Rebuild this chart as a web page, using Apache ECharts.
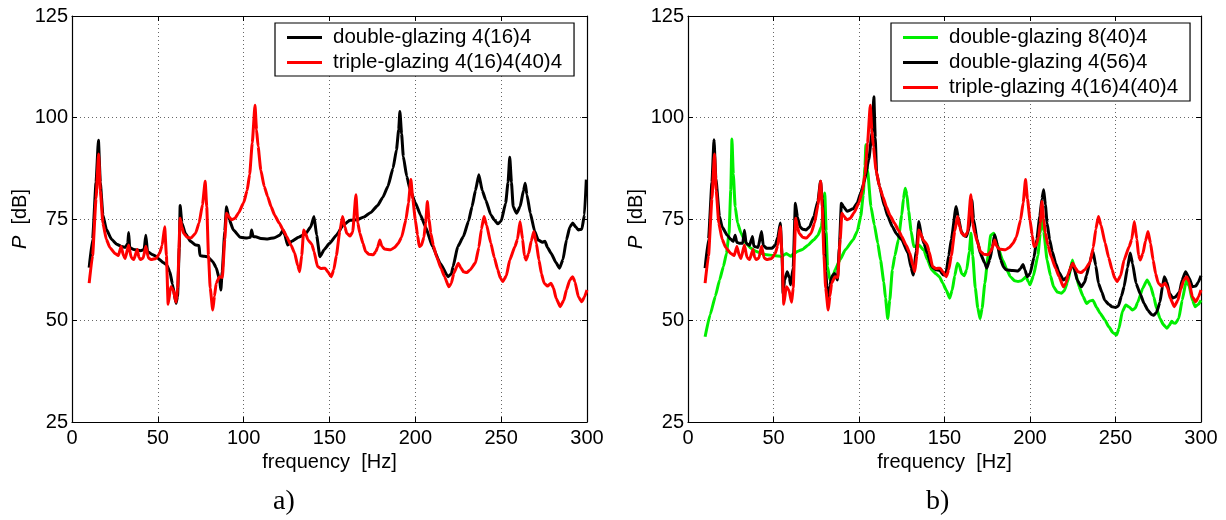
<!DOCTYPE html>
<html>
<head>
<meta charset="utf-8">
<script src="https://cdn.jsdelivr.net/npm/echarts@6/dist/echarts.min.js"></script>
<style>html,body{margin:0;padding:0;background:#fff}#c{width:1226px;height:520px}</style>
</head>
<body>
<div id="c"></div>
<script>
// ---- data: [frequency Hz, P dB] ----
const xTicks = [0, 50, 100, 150, 200, 250, 300];
const yTicks = [25, 50, 75, 100, 125];
const names = ['double-glazing 4(16)4', 'triple-glazing 4(16)4(40)4', 'double-glazing 8(40)4', 'double-glazing 4(56)4'];
const panelLabels = ['a)', 'b)'];

const double_4_16_4 = [[10,63],[12,70],[14,84],[15.4,94.4],[16.5,84],[18,76],[20,72.5],[23,70],[26,68.8],[29,68.2],[31,68],[32.5,69],[33,71.7],[33.6,68],[36,67.5],[40,67.2],[42,67.5],[43,71],[44,67],[47,66.2],[49,65.8],[51,65],[53,64.3],[55,63.8],[57,62],[58.5,59],[60.6,54.2],[61.5,56],[62.5,68],[63,78.3],[64,74],[66,71.5],[69,69.5],[72,68.6],[74,68.5],[74.5,66],[77,65.8],[79,65.7],[82,64.5],[84,63],[86,60],[86.7,57.5],[87.5,62],[89,72],[90,78],[91.5,75],[94,72.3],[98,70.5],[102,70.3],[104,70.5],[104.6,72.3],[105.5,70.7],[107,70.6],[110,70.2],[114,70.1],[118,70.4],[121,71],[123,72.3],[124,71],[125.6,68.6],[128,69.5],[132,70.5],[136,71.3],[139,73],[141,75.6],[142.5,71],[144.4,65.7],[147,67.5],[150,69],[154,71],[158,73.5],[162,74.7],[166,74.8],[170,75.5],[174,76.6],[178,78.3],[181,80.3],[184,83],[187,87.5],[189,92],[190.3,97],[191,101.5],[192,96],[193,90.4],[195,85.5],[197,82.2],[200,79],[203,76],[206,73],[210,68.2],[214.5,64.1],[219,60.8],[221,61.5],[222,63.3],[224.7,68.2],[228,70.7],[231,74.5],[233,78],[235,82],[237,85.9],[239,82],[241,79.7],[244,76],[246,74.8],[248,73.8],[250,74.5],[252.6,78.9],[254,84],[255,90.2],[256,84],[257,78],[259,76.4],[261,78],[263,82],[264,83.8],[265,81],[267,76.4],[269.5,72],[271.6,69.8],[274,69.3],[275.5,69.5],[277,68],[279,66.6],[282,64.2],[284,62.9],[286,65],[288,69.8],[290,73],[291.7,74],[293.5,73],[295,72.3],[297,72.5],[298.5,76],[299.6,84.7]];

const triple_4_16_4_40_4 = [[10,59.2],[12,66],[14,80],[15.5,91],[16.5,82],[18,74],[20,70],[22,68],[25,66.5],[27,66],[28.6,68.2],[30,66],[31,65.3],[33,68.6],[34.5,65.5],[36,65],[38,67.5],[39,65.5],[40,65],[41.5,65.4],[43,68.3],[44.5,65.4],[46,65],[49,65.3],[51,66.5],[52.5,68.5],[54,73.1],[55,66],[56,54],[57.5,58.3],[59,57.5],[60.6,54.5],[61.5,58],[63,75.2],[64,73],[65,71.5],[67,70.5],[69.3,70.3],[72,71.5],[74,74],[76,78.5],[77.6,84.3],[78.5,78],[79.5,66],[80.5,58],[82,52.6],[83,56],[84,59.2],[86,60.8],[87.6,60.6],[89,70],[90,76.4],[91,75.8],[93,74.8],[95,75.2],[97,76.5],[100,79],[102,82],[103.5,86],[105,93.7],[106.6,103],[107.5,97],[108.4,92.9],[110,87],[112,83],[114,80.5],[116,78],[118,76],[120.7,74],[123,72.3],[125,70.7],[127.5,68.6],[129.7,66.6],[131.5,63.5],[132.6,62],[133.8,66],[135,72.3],[136,71.5],[137.5,69.8],[139.7,68.8],[141,67],[143,63.3],[145,62.8],[147.5,62.9],[149,62],[151,60.8],[152.5,62.5],[154,66],[156,72],[157.6,75.6],[159,73],[160,71.5],[162,70.8],[163.5,71.8],[165.4,81],[166.5,74],[167.7,71.5],[169.5,69],[171,67],[173,66.3],[175.5,66.2],[177,67],[178,68],[179.3,69.8],[180.5,68.3],[182,67.6],[185.6,67.4],[188,68],[190,69],[192,70.5],[194.5,74.8],[196,79],[197.4,84.7],[198.5,80],[200,74.8],[201.3,71],[202.3,68.2],[203.5,68.5],[205,70.5],[206,74],[207,79.3],[208,75],[209,71.5],[210.5,68.5],[212.4,65.7],[215,62.8],[217,60.8],[219.5,58.3],[221,59.2],[222.4,61.6],[225,64.1],[226.5,63],[228,62],[230,61.8],[232,62.5],[235,64.2],[237,68],[238.5,72.5],[240,75.6],[241.5,73.5],[244,69],[246,65.5],[248,62.5],[249.5,60.5],[251,59.6],[253,61],[255,64.9],[258,68.2],[259.5,70],[261,74.4],[262.5,70],[263.5,66],[264.5,64.9],[266,66.5],[267.5,69.5],[269,71.9],[270.5,69],[272,64.9],[273.5,61.5],[275,59.2],[277,58.5],[279,59.2],[280.5,58],[282,55.5],[284.4,53.4],[286.5,55],[288,57.5],[290,60],[291.7,60.8],[293,59.5],[295,55.8],[297,54.6],[298.5,55.8],[300,57.5]];

const double_4_56_4 = [[10,62.9],[12,70],[14,84],[15.2,94.5],[16.3,85],[18.4,75.6],[20,73],[23,71],[25,70],[26.5,69.5],[27.6,71],[28.5,69.3],[30,69],[32,69],[33,72.2],[34,69],[36,68.5],[37.7,70.7],[38.5,68.3],[41,68],[43,71.9],[44,68.5],[46,67.8],[49,67.8],[51,68.5],[52.5,70.5],[54,74],[55,66],[55.6,56.7],[56.5,60],[58,62],[59.3,60.5],[60,58.8],[61.5,63],[62.8,78.9],[64,75.5],[65.5,73.1],[67,72.5],[69,72.3],[71,73],[73.6,75.6],[76,79.5],[77.5,84.3],[78.5,80],[79.5,72],[80.5,62],[81.8,55],[83,58.5],[84,60.8],[85.7,61.6],[87.4,60],[88.5,68],[89.7,78.9],[91,78],[93,76.9],[96.6,77.5],[99,79],[101,81.4],[103,84],[105.7,89.6],[107.6,96.2],[108.7,105.1],[109.5,95],[110.3,86.3],[112,83],[115,78],[117,75.5],[119.5,73.1],[122,71.3],[125,69.9],[128.7,66.6],[130.5,63],[131.7,61.2],[133.5,67],[135,74.4],[136.5,71],[138,69],[140,66.5],[142.5,63.3],[145,62.5],[147,62.4],[149.4,61.2],[151,62],[152.5,66],[154,70],[156.8,78.1],[158,75.5],[159.8,72],[161,71],[162.8,70.7],[164.5,73],[166,79.7],[167,75],[169,70],[171,66.5],[173.6,64.1],[174.7,62.9],[176.5,65],[178,68],[179.3,71.1],[181,68.5],[182.8,65],[184.5,63.2],[186,62.5],[190,62.3],[193,62.2],[194.5,62.8],[195.9,63.8],[197,62.5],[198.4,60.8],[200,61.5],[202.3,65.5],[204,70],[205.7,75.6],[207,80],[208,82.2],[209,78.5],[210,74],[211.5,69.9],[213,67],[215,64.1],[217,61.8],[219.5,60],[222,60.8],[224.8,64.1],[226,62.5],[227.6,60],[230,58.3],[232,59.5],[233,61],[235,64.5],[236.8,67],[238.5,63.5],[240,59.2],[242,57],[243.7,55],[246,54],[248,53.4],[250,53.2],[251.7,53.6],[253.5,56],[255,58.3],[257,63],[258.6,66.6],[260,64],[262,59.2],[264.5,56.5],[266.7,54.2],[269,52.5],[271,51.5],[272.4,51.3],[274,52],[276,54.5],[277.5,58.5],[278.6,60.8],[280,59.5],[281.6,56.7],[283.5,55.5],[285,55.8],[287.4,57],[289,60],[291,62],[293,60.5],[295,58.3],[297,58.5],[298.5,59.5],[300,61]];

const double_8_40_4 = [[10,46],[13,51.5],[16,56],[18.5,60],[20.7,63.3],[22.5,66.5],[24,71.5],[25,82],[25.7,94.7],[26.5,86],[27.6,78],[29,74],[31,71.5],[34,69],[36.8,67.8],[40,67],[43,66.5],[46,66.2],[50,66],[55,65.8],[57.5,66.5],[60,65.8],[62,66.5],[64,67],[67,67.5],[70,68.5],[73.6,69.9],[76,71],[78,73.1],[79.2,77],[80,81.4],[80.8,72],[81.6,63.3],[83,60],[84.5,60.5],[86,62.5],[89,65],[92,67.4],[96.6,69.9],[99,72],[101,75.6],[102.5,81],[103.5,88],[104,93.3],[105,87],[107,78],[109,73.5],[111,69],[112.6,64.9],[114.5,59.5],[115.5,55.5],[116.8,50.5],[118,55],[119.5,62.5],[121,66],[123,69.9],[125,76],[126,80],[127,82.6],[128,81],[129,77],[130.5,72],[132,68.2],[135,68.6],[138,67.3],[140,65],[142.5,62.5],[145,61.5],[147,60.8],[149,59.2],[151,57.5],[153,55.5],[154.5,57.5],[156,61],[157.5,64.1],[158.7,63.5],[160,61.6],[161.5,61],[163,62.5],[164.5,67],[165.5,71.5],[166.5,66],[168,58],[169.5,53],[170.8,50.5],[172,53],[173.6,59.2],[175.5,66],[177,71],[178.9,71.5],[180.5,69],[184,64.9],[186.5,62.5],[188.5,60.8],[191,59.8],[193,59.6],[195,59.8],[197.7,60.8],[199,59.5],[200,58.8],[202,61],[204.6,66],[206,71.5],[207,75.6],[208,72],[210,64.9],[212,61],[213.8,58.3],[216,57],[218.4,56.7],[220,57.3],[222,59.5],[224.8,64.9],[226.5,62],[228.7,58.3],[231,56],[233,54.2],[235,54.8],[236.8,55],[239,53.2],[241,51.8],[244,50],[246,48.5],[248.5,47],[250.6,46.4],[252,48],[254,52.2],[256,53.8],[258,53.3],[259.8,52.6],[261.5,53],[263,54.5],[266,58],[268.5,60],[270.5,58.5],[272.4,55.8],[274,53],[276,50.5],[278,49],[280,48.1],[281.5,48.8],[282.8,49.8],[284,49.4],[285,49.3],[287,50.5],[289,55],[291.5,60],[293,58.5],[295,55],[296.6,53.4],[298.5,54],[300,55]];

// ---- chart ----
const FONT = 'Liberation Sans, Arial, Helvetica, sans-serif';
const grids = [
  {left: 72, top: 16, width: 515, height: 406},
  {left: 688, top: 16, width: 513, height: 406}
];
const xMin = xTicks[0], xMax = xTicks[xTicks.length - 1], xInt = xTicks[1] - xTicks[0];
const yMin = yTicks[0], yMax = yTicks[yTicks.length - 1], yInt = yTicks[1] - yTicks[0];

const splitStyle = {show: true, lineStyle: {type: [1, 3], color: '#666', width: 1}};
const xAxes = [], yAxes = [];
grids.forEach((g, i) => {
  xAxes.push({
    type: 'value', gridIndex: i, min: xMin, max: xMax, interval: xInt, position: 'bottom',
    axisLine: {show: true, lineStyle: {color: '#000', width: 1.2}},
    axisTick: {show: true, inside: true, length: 5, lineStyle: {color: '#000'}},
    axisLabel: {color: '#000', fontSize: 20, fontFamily: FONT, margin: 6},
    splitLine: splitStyle,
    name: 'frequency  [Hz]', nameLocation: 'middle', nameGap: 28,
    nameTextStyle: {color: '#000', fontSize: 20, fontFamily: FONT}
  });
  xAxes.push({
    type: 'value', gridIndex: i, min: xMin, max: xMax, interval: xInt, position: 'top',
    axisLine: {show: true, onZero: false, lineStyle: {color: '#000', width: 1.2}},
    axisTick: {show: true, inside: true, length: 5, lineStyle: {color: '#000'}},
    axisLabel: {show: false}, splitLine: {show: false}
  });
  yAxes.push({
    type: 'value', gridIndex: i, min: yMin, max: yMax, interval: yInt, position: 'left',
    axisLine: {show: true, onZero: false, lineStyle: {color: '#000', width: 1.2}},
    axisTick: {show: true, inside: true, length: 5, lineStyle: {color: '#000'}},
    axisLabel: {color: '#000', fontSize: 20, fontFamily: FONT, margin: 4},
    splitLine: splitStyle,
    name: '{i|P}  [dB]', nameLocation: 'middle', nameGap: 40,
    nameTextStyle: {color: '#000', fontSize: 20, fontFamily: FONT,
      rich: {i: {fontStyle: 'italic', fontSize: 20, fontFamily: FONT, color: '#000'}}}
  });
  yAxes.push({
    type: 'value', gridIndex: i, min: yMin, max: yMax, interval: yInt, position: 'right',
    axisLine: {show: true, onZero: false, lineStyle: {color: '#000', width: 1.2}},
    axisTick: {show: true, inside: true, length: 5, lineStyle: {color: '#000'}},
    axisLabel: {show: false}, splitLine: {show: false}
  });
});

function line(name, data, color, gi) {
  return {
    type: 'line', name: name, data: data, xAxisIndex: gi * 2, yAxisIndex: gi * 2,
    symbol: 'none', smooth: 0.15, smoothMonotone: 'x', lineStyle: {color: color, width: 3}, itemStyle: {color: color},
    animation: false
  };
}

const legendCommon = {
  orient: 'vertical', icon: 'rect', itemWidth: 35, itemHeight: 3, itemGap: 4,
  backgroundColor: '#fff', borderColor: '#000', borderWidth: 1.2, borderRadius: 0,
  padding: [4, 12, 3, 12],
  textStyle: {color: '#000', fontSize: 20.5, lineHeight: 20, fontFamily: FONT, padding: [0, 0, 0, 6]},
  selectedMode: false
};

const option = {
  animation: false,
  grid: grids,
  xAxis: xAxes,
  yAxis: yAxes,
  legend: [
    Object.assign({}, legendCommon, {left: 275, top: 23, data: [names[0], names[1]]}),
    Object.assign({}, legendCommon, {left: 891, top: 23, data: [names[2], names[3], names[1]]})
  ],
  graphic: [
    {type: 'text', left: 273, top: 488, style: {text: panelLabels[0], font: '28px "Liberation Serif", "DejaVu Serif", serif', fill: '#000'}},
    {type: 'text', left: 926, top: 488, style: {text: panelLabels[1], font: '28px "Liberation Serif", "DejaVu Serif", serif', fill: '#000'}}
  ],
  series: [
    line(names[0], double_4_16_4, '#000000', 0),
    line(names[1], triple_4_16_4_40_4, '#ff0000', 0),
    line(names[2], double_8_40_4, '#00ee00', 1),
    line(names[3], double_4_56_4, '#000000', 1),
    line(names[1], triple_4_16_4_40_4, '#ff0000', 1)
  ]
};
const chart = echarts.init(document.getElementById('c'), null, {renderer: 'canvas'});
chart.setOption(option);
</script>
</body>
</html>
